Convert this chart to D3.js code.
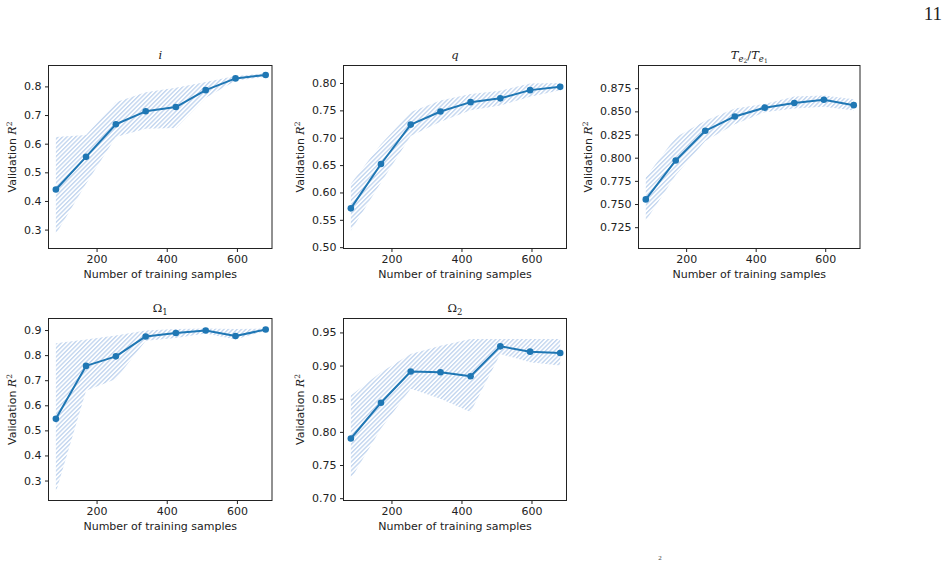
<!DOCTYPE html>
<html>
<head>
<meta charset="utf-8">
<script src="https://cdn.jsdelivr.net/npm/d3@7"></script>
<style>
  body { margin: 0; background: #fff; }
  svg text { font-family: "DejaVu Sans", sans-serif; }
</style>
</head>
<body>
<div id="chart"></div>
<script>
const width = 947, height = 561;

// number of training samples, shared by every panel
const xSamples = [84, 170, 255, 340, 426, 511, 596, 682];
const xTicks = [200, 400, 600];

// panel i
const meanI  = [0.440, 0.554, 0.668, 0.713, 0.728, 0.787, 0.828, 0.840];
const upperI = [0.623, 0.630, 0.745, 0.780, 0.795, 0.815, 0.836, 0.846];
const lowerI = [0.285, 0.460, 0.623, 0.652, 0.655, 0.760, 0.820, 0.834];
const ticksI = [0.3, 0.4, 0.5, 0.6, 0.7, 0.8];

// panel q
const meanQ  = [0.571, 0.652, 0.724, 0.748, 0.765, 0.772, 0.787, 0.793];
const upperQ = [0.616, 0.688, 0.747, 0.768, 0.780, 0.786, 0.799, 0.800];
const lowerQ = [0.530, 0.618, 0.703, 0.729, 0.750, 0.759, 0.775, 0.787];
const ticksQ = [0.50, 0.55, 0.60, 0.65, 0.70, 0.75, 0.80];

// panel Te2/Te1
const meanT  = [0.755, 0.797, 0.829, 0.8445, 0.854, 0.859, 0.8625, 0.8567];
const upperT = [0.779, 0.822, 0.840, 0.853, 0.858, 0.866, 0.867, 0.863];
const lowerT = [0.732, 0.781, 0.818, 0.836, 0.849, 0.853, 0.855, 0.851];
const ticksT = [0.725, 0.750, 0.775, 0.800, 0.825, 0.850, 0.875];

// panel Omega 1
const meanO1  = [0.546, 0.757, 0.795, 0.8745, 0.888, 0.898, 0.876, 0.902];
const upperO1 = [0.847, 0.862, 0.878, 0.898, 0.904, 0.906, 0.904, 0.906];
const lowerO1 = [0.253, 0.658, 0.705, 0.857, 0.868, 0.886, 0.862, 0.897];
const ticksO1 = [0.3, 0.4, 0.5, 0.6, 0.7, 0.8, 0.9];

// panel Omega 2
const meanO2  = [0.790, 0.844, 0.891, 0.890, 0.884, 0.929, 0.921, 0.919];
const upperO2 = [0.855, 0.890, 0.9175, 0.930, 0.940, 0.940, 0.940, 0.940];
const lowerO2 = [0.729, 0.805, 0.865, 0.850, 0.830, 0.9175, 0.905, 0.900];
const ticksO2 = [0.70, 0.75, 0.80, 0.85, 0.90, 0.95];

const blue = "#1f77b4";

var panels = [
  {title: "i",  mean: meanI,  upper: upperI,  lower: lowerI,  ticks: ticksI,  fmt: ".1f", yDomain: [0.234, 0.873], box: [48, 65, 223.5, 183]},
  {title: "q",  mean: meanQ,  upper: upperQ,  lower: lowerQ,  ticks: ticksQ,  fmt: ".2f", yDomain: [0.4976, 0.832], box: [343, 65, 223, 183]},
  {title: "T",  mean: meanT,  upper: upperT,  lower: lowerT,  ticks: ticksT,  fmt: ".3f", yDomain: [0.702, 0.8995], box: [638, 65, 221.5, 183]},
  {title: "O1", mean: meanO1, upper: upperO1, lower: lowerO1, ticks: ticksO1, fmt: ".1f", yDomain: [0.2204, 0.946], box: [48, 318, 223.5, 182]},
  {title: "O2", mean: meanO2, upper: upperO2, lower: lowerO2, ticks: ticksO2, fmt: ".2f", yDomain: [0.6965, 0.971], box: [343, 318, 223, 182]}
];

const svg = d3.select("#chart").append("svg")
  .attr("width", width)
  .attr("height", height)
  .attr("viewBox", [0, 0, width, height]);

svg.append("rect").attr("width", width).attr("height", height).attr("fill", "#fff");

// diagonal hatch like matplotlib's '///'
svg.append("defs").append("pattern")
    .attr("id", "hatch")
    .attr("patternUnits", "userSpaceOnUse")
    .attr("width", 3.1)
    .attr("height", 10)
    .attr("patternTransform", "rotate(45)")
  .append("line")
    .attr("x1", 1.5).attr("y1", -1)
    .attr("x2", 1.5).attr("y2", 11)
    .attr("stroke", "#abc6e8")
    .attr("stroke-width", 1);

// page number and the footnote mark at the bottom edge
svg.append("text")
  .attr("x", 942).attr("y", 20)
  .attr("text-anchor", "end")
  .style("font-family", "'Liberation Serif', serif")
  .style("font-size", "19px")
  .attr("fill", "#222")
  .text("11");
svg.append("text")
  .attr("x", 660).attr("y", 560)
  .attr("text-anchor", "middle")
  .style("font-family", "'Liberation Serif', serif")
  .style("font-size", "7px")
  .attr("fill", "#444")
  .text("2");

function drawTitle(g, key, cx, y) {
  var t = g.append("text")
    .attr("x", cx).attr("y", y)
    .attr("text-anchor", "middle")
    .attr("fill", "#222")
    .style("font-family", "'DejaVu Serif', serif")
    .style("font-size", "11.5px");
  if (key == "i" || key == "q") {
    t.append("tspan").style("font-style", "italic").text(key);
  } else if (key == "T") {
    var parts = [["T", 0, 11.5], ["e", 2.5, 8.5], ["2", 1.5, 6], ["/", -4, 11.5], ["T", 0, 11.5], ["e", 2.5, 8.5], ["1", 1.5, 6]];
    var cur = 0;
    parts.forEach(function(p) {
      var base = p[0] == "/" || p[0] == "T" ? 0 : cur + p[1];
      t.append("tspan")
        .attr("dy", base - cur)
        .style("font-style", /[0-9\/]/.test(p[0]) ? "normal" : "italic")
        .style("font-size", p[2] + "px")
        .text(p[0]);
      cur = base;
    });
  } else {
    t.append("tspan").text("\u03A9");
    t.append("tspan").attr("dy", 2.5).style("font-size", "8.5px").text(key == "O1" ? "1" : "2");
  }
}

panels.forEach(function(p) {
  var [left, top, w, h] = p.box;
  var g = svg.append("g").attr("transform", `translate(${left + 0.5},${top + 0.5})`);

  var x = d3.scaleLinear().domain([63, 700]).range([0, w]);
  var y = d3.scaleLinear().domain(p.yDomain).range([h, 0]);

  var area = d3.area()
    .x((d, i) => x(xSamples[i]))
    .y0((d, i) => y(p.lower[i]))
    .y1((d, i) => y(p.upper[i]));

  g.append("path")
    .datum(p.mean)
    .attr("d", area)
    .attr("fill", "url(#hatch)");

  var line = d3.line()
    .x((d, i) => x(xSamples[i]))
    .y(d => y(d));

  g.append("path")
    .datum(p.mean)
    .attr("d", line)
    .attr("fill", "none")
    .attr("stroke", blue)
    .attr("stroke-width", 2)
    .attr("stroke-linejoin", "round");

  g.selectAll("circle")
    .data(p.mean)
    .join("circle")
      .attr("cx", (d, i) => x(xSamples[i]))
      .attr("cy", d => y(d))
      .attr("r", 3.3)
      .attr("fill", blue);

  // axes
  var xAxis = g.append("g")
    .attr("transform", `translate(0,${h})`)
    .call(d3.axisBottom(x).tickValues(xTicks).tickSize(3.5).tickPadding(3.5));
  var yAxis = g.append("g")
    .call(d3.axisLeft(y).tickValues(p.ticks).tickFormat(d3.format(p.fmt)).tickSize(3.5).tickPadding(3.5));

  [xAxis, yAxis].forEach(function(a) {
    a.select(".domain").remove();
    a.selectAll("text").style("font-size", "11px").style("font-family", "'DejaVu Sans', sans-serif").attr("fill", "#222");
    a.selectAll("line").attr("stroke", "#222");
  });

  g.append("rect")
    .attr("width", w).attr("height", h)
    .attr("fill", "none")
    .attr("stroke", "#222")
    .attr("stroke-width", 1);

  // axis labels
  g.append("text")
    .attr("x", w / 2).attr("y", h + 29.5)
    .attr("text-anchor", "middle")
    .style("font-size", "11px")
    .attr("fill", "#222")
    .text("Number of training samples");

  var tickBox = yAxis.node().getBBox();
  var yl = g.append("text")
    .attr("transform", `translate(${tickBox.x - 8.5},${h / 2}) rotate(-90)`)
    .attr("text-anchor", "middle")
    .style("font-size", "11px")
    .attr("fill", "#222");
  yl.append("tspan").text("Validation ");
  yl.append("tspan").style("font-family", "'DejaVu Serif', serif").style("font-style", "italic").text("R");
  yl.append("tspan").attr("dy", -4).style("font-family", "'DejaVu Serif', serif").style("font-size", "7.5px").text("2");

  drawTitle(g, p.title, w / 2, -6.5);
});
</script>
</body>
</html>
